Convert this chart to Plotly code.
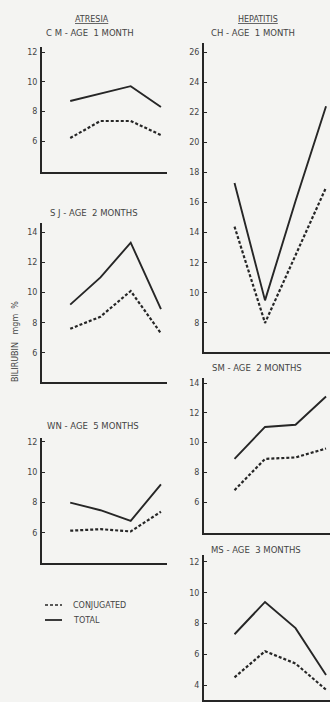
import plotly.graph_objects as go

W, H = 330, 702

# ---- data ----
x_points = [1, 2, 3, 4]

cm_total = [8.7, 9.2, 9.7, 8.3]
cm_conj = [6.2, 7.35, 7.35, 6.4]
sj_total = [9.2, 11.0, 13.3, 8.9]
sj_conj = [7.6, 8.4, 10.1, 7.3]
wn_total = [8.0, 7.5, 6.8, 9.2]
wn_conj = [6.15, 6.25, 6.1, 7.4]

ch_total = [17.3, 9.5, 16.1, 22.4]
ch_conj = [14.4, 8.0, 12.5, 17.0]
sm_total = [8.9, 11.05, 11.2, 13.1]
sm_conj = [6.8, 8.9, 9.0, 9.6]
ms_total = [7.3, 9.4, 7.7, 4.65]
ms_conj = [4.5, 6.2, 5.4, 3.7]

group_titles = ["ATRESIA", "HEPATITIS"]
panel_titles = ["C M - AGE  1 MONTH", "S J - AGE  2 MONTHS", "WN - AGE  5 MONTHS",
                "CH - AGE  1 MONTH", "SM - AGE  2 MONTHS", "MS - AGE  3 MONTHS"]
y_label = "BILIRUBIN   mgm  %"
legend_labels = ["CONJUGATED", "TOTAL"]

cm_ticks = [6, 8, 10, 12]
sj_ticks = [6, 8, 10, 12, 14]
wn_ticks = [6, 8, 10, 12]
ch_ticks = [8, 10, 12, 14, 16, 18, 20, 22, 24, 26]
sm_ticks = [6, 8, 10, 12, 14]
ms_ticks = [4, 6, 8, 10, 12]

# ---- layout helpers (pixel geometry) ----
def fx(px):
    return px / W

def fy(py):
    return 1 - py / H

INK = "#262626"
TXT = "#444444"
BG = "#f4f4f2"
FONT = "DejaVu Sans"

panels = [
    # (total, conj, ticks, x-left px, x-right px, top px, bottom px, yrange, xrange)
    (cm_total, cm_conj, cm_ticks, 42, 167, 47, 172, [3.91, 12.34], [0.067, 4.2]),
    (sj_total, sj_conj, sj_ticks, 42, 167, 223, 382, [4.08, 14.6], [0.067, 4.2]),
    (wn_total, wn_conj, wn_ticks, 42, 167, 438, 563, [4.02, 12.26], [0.067, 4.2]),
    (ch_total, ch_conj, ch_ticks, 204, 330, 43, 352, [6.07, 26.6], [0.0, 4.13]),
    (sm_total, sm_conj, sm_ticks, 204, 330, 378, 533, [3.92, 14.34], [0.0, 4.13]),
    (ms_total, ms_conj, ms_ticks, 204, 330, 555, 700, [3.03, 12.45], [0.0, 4.13]),
]

fig = go.Figure()
layout = {}
for i, (tot, conj, ticks, xl, xr, yt, yb, yr, xrg) in enumerate(panels, start=1):
    xa = "x" if i == 1 else f"x{i}"
    ya = "y" if i == 1 else f"y{i}"
    fig.add_trace(go.Scatter(x=x_points, y=conj, mode="lines", xaxis=xa, yaxis=ya,
                             line=dict(color=INK, width=2.2, dash="3px,2px"),
                             showlegend=False, name=legend_labels[0]))
    fig.add_trace(go.Scatter(x=x_points, y=tot, mode="lines", xaxis=xa, yaxis=ya,
                             line=dict(color=INK, width=1.9),
                             showlegend=False, name=legend_labels[1]))
    kx = "xaxis" if i == 1 else f"xaxis{i}"
    ky = "yaxis" if i == 1 else f"yaxis{i}"
    layout[kx] = dict(domain=[fx(xl), min(1, fx(xr))], range=xrg, anchor=ya,
                      showgrid=False, zeroline=False, showticklabels=False,
                      ticks="", showline=True, linecolor=INK, linewidth=2,
                      fixedrange=True)
    layout[ky] = dict(domain=[fy(yb), fy(yt)], range=yr, anchor=xa,
                      showgrid=False, zeroline=False, tickmode="array",
                      tickvals=ticks, ticktext=[str(t) for t in ticks],
                      ticks="inside", ticklen=3, tickwidth=1.2, tickcolor=INK,
                      ticklabelstandoff=1,
                      tickfont=dict(family=FONT, size=8, color=TXT),
                      showline=True, linecolor=INK, linewidth=2, fixedrange=True)

annotations = []
def ann(text, px, py, size=8, xanchor="center", **kw):
    font = dict(family=FONT, size=size, color=TXT)
    font.update(kw.pop("font", {}))
    d = dict(text=text, x=fx(px), y=fy(py), xref="paper", yref="paper",
             xanchor=xanchor, yanchor="middle", showarrow=False, font=font)
    d.update(kw)
    annotations.append(d)

ann(group_titles[0], 92, 19, size=8, font=dict(lineposition="under"))
ann(group_titles[1], 258, 19, size=8, font=dict(lineposition="under"))
title_pos = [(90, 33), (94, 213), (93, 426), (253, 33), (257, 368), (256, 550)]
for t, (px, py) in zip(panel_titles, title_pos):
    ann(t, px, py, size=8.5)
ann(y_label, 15, 342, size=8, textangle=-90)
ann(legend_labels[0], 71, 605, size=8, xanchor="left")
ann(legend_labels[1], 71, 620, size=8, xanchor="left")

shapes = [
    dict(type="line", xref="paper", yref="paper", x0=fx(45), x1=fx(62), y0=fy(605), y1=fy(605),
         line=dict(color=INK, width=1.6, dash="3px,2px")),
    dict(type="line", xref="paper", yref="paper", x0=fx(45), x1=fx(62), y0=fy(620), y1=fy(620),
         line=dict(color=INK, width=1.8)),
]

fig.update_layout(width=W, height=H, margin=dict(l=0, r=0, t=0, b=0),
                  paper_bgcolor=BG, plot_bgcolor=BG, showlegend=False,
                  annotations=annotations, shapes=shapes, **layout)

fig.write_html("out.html", config={"displayModeBar": False})
